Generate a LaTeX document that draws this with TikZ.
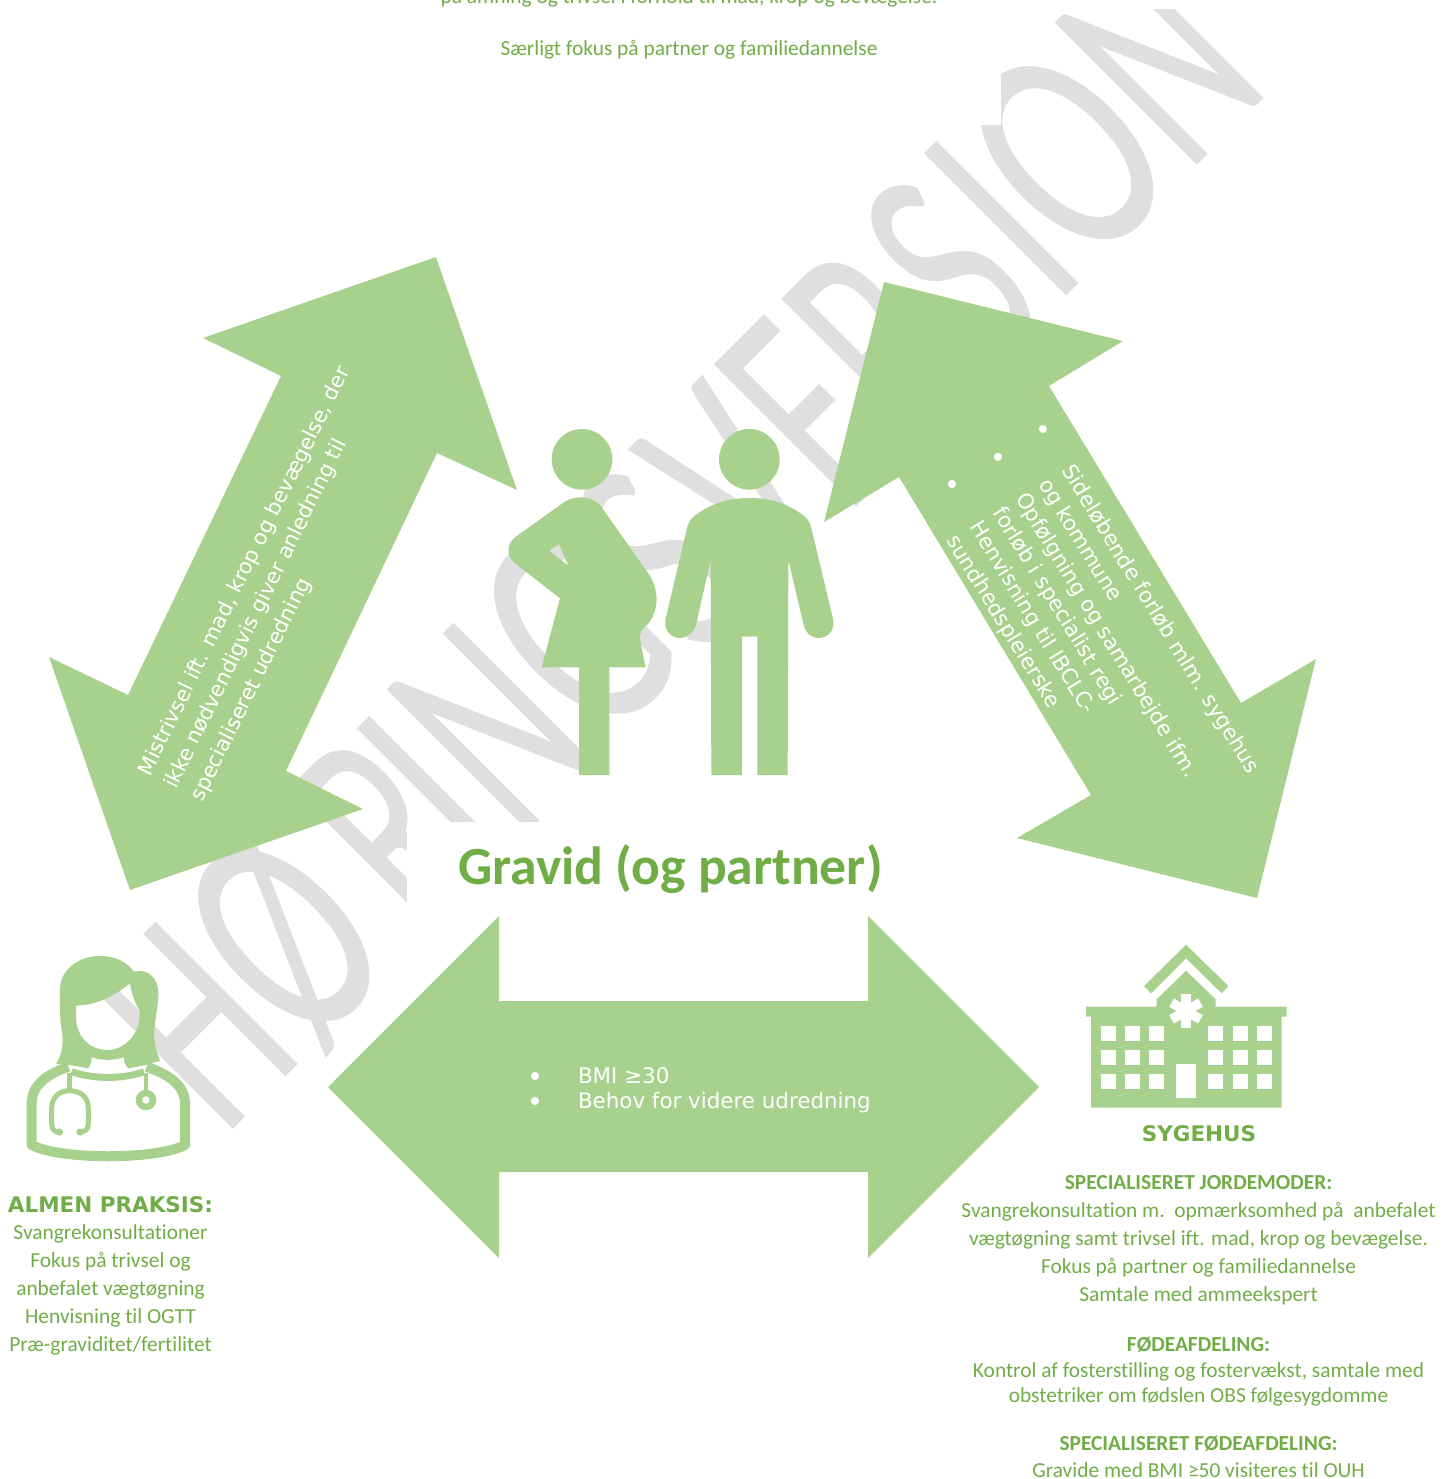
\documentclass[tikz,border=0pt]{standalone}
\usepackage{fontspec}
\setmainfont[Ligatures=NoCommon]{Carlito}
\newfontfamily\vfont{DejaVu Sans}
\newfontfamily\wmfont[FakeBold=0.3]{Carlito}
\definecolor{shapegreen}{HTML}{A9D18E}
\definecolor{textgreen}{HTML}{70AD47}
\definecolor{wmgray}{HTML}{DFDFDF}
\tikzset{
  wm/.style={inner sep=0pt,outer sep=0pt,text=wmgray,anchor=base,rotate=45,xscale=.6,transform shape,font=\wmfont\fontsize{312}{312}\selectfont},
  greenfill/.style={fill=shapegreen,draw=none},
  knock/.style={fill=white,draw=none},
  ink/.style={draw=shapegreen,line cap=round,line join=round},
  bodytxt/.style={inner sep=0pt,outer sep=0pt,anchor=base,text=textgreen,font=\fontsize{21.4}{21.4}\selectfont},
  bodyb/.style={bodytxt,font=\bfseries\fontsize{21.4}{21.4}\selectfont},
  headtxt/.style={inner sep=0pt,outer sep=0pt,anchor=base,text=textgreen,font=\vfont\bfseries\fontsize{21.5}{21.5}\selectfont},
  arrowtext/.style={inner sep=0pt,outer sep=0pt,text=white,align=left},
  blt/.style={inner sep=0pt,outer sep=0pt,text=white,font=\vfont\fontsize{27}{27}\selectfont},
}
\begin{document}
\begin{tikzpicture}[x=1pt,y=-1pt]
\useasboundingbox (0,0) rectangle (1453,1479);
% watermark
\node[wm] (w1) at (265,1096) {H};
\node[wm,xscale=1.08] (w2) at (354.5,1006.5) {Ø};
\node[wm] (w3) at (459.5,901.5) {R};
\node[wm] (w4) at (505,864) {I};
\node[wm] (w5) at (562,798) {N};
\node[wm,xscale=1.08] (w6) at (647,703) {G};
\node[wm] (w7) at (732,629) {S};
\node[wm] (w8) at (807,554) {V};
\node[wm] (w9) at (879,483) {E};
\node[wm] (w10) at (950,414) {R};
\node[wm] (w11) at (1021,340) {S};
\node[wm] (w12) at (1072,289) {I};
\node[wm,xscale=1.12] (w13) at (1137.5,223.5) {O};
\node[wm] (w14) at (1230,131) {N};
% white text boxes over the watermark
\fill[knock] (407,822) rectangle (1000,1000);
\fill[knock] (400,-5) rectangle (1001,125);
\fill[knock] (1001,-5) rectangle (1453,9);
% arrows
\fill[greenfill] (436,257)--(517,490)--(437,453)--(286,771)--(363,809)--(130,890)--(49,657)--(128,695)--(281,376)--(203,338)--cycle;
\fill[greenfill] (884,282)--(1123,341)--(1049,386)--(1241,703)--(1316,659)--(1257,898)--(1017,838)--(1091,795)--(899,477)--(824,522)--cycle;
\fill[greenfill] (328,1087)--(499,916)--(499,1001)--(868,1001)--(868,916)--(1039,1087)--(868,1258)--(868,1172)--(499,1172)--(499,1258)--cycle;
% pregnant figure and man
\begin{scope}[shift={(480,410)},scale=.33333]
\fill[greenfill] (306,148) circle[radius=91];
\fill[greenfill,even odd rule] (300,262) .. controls (325,262) and (345,270) .. (360,285) -- (505,490) .. controls (540,540) and (540,615) .. (490,655) .. controls (480,665) and (478,680) .. (482,700) -- (497,772) -- (388,772) -- (388,1095) -- (297,1095) -- (297,772) -- (185,772) -- (240,565) -- (105,460) .. controls (75,435) and (80,395) .. (115,375) -- (250,278) .. controls (265,268) and (280,262) .. (300,262) -- cycle
 (208,422) -- (237,402) -- (265,467) -- cycle;
\fill[greenfill] (808,148) circle[radius=91];
\fill[greenfill] (808,264) .. controls (870,264) and (925,280) .. (975,320) .. controls (985,330) and (990,340) .. (993,350) -- (1060,630) .. controls (1065,665) and (1040,684) .. (1015,684) .. controls (990,684) and (975,665) .. (970,640) -- (925,450) -- (923,1095) -- (832,1095) -- (832,680) -- (786,680) -- (786,1095) -- (694,1095) -- (692,450) -- (648,645) .. controls (640,668) and (622,684) .. (602,684) .. controls (575,684) and (552,665) .. (556,630) -- (622,350) .. controls (625,340) and (630,330) .. (638,322) .. controls (690,280) and (745,264) .. (808,264) -- cycle;
\end{scope}
% doctor
\begin{scope}[shift={(0,940)},scale=.33333]
\fill[greenfill,even odd rule] (168,372) .. controls (185,345) and (192,310) .. (185,270) .. controls (178,230) and (180,190) .. (180,150) .. controls (180,85) and (240,48) .. (300,48) .. controls (350,48) and (385,70) .. (402,95) .. controls (440,85) and (475,110) .. (475,160) .. controls (475,230) and (445,280) .. (480,362) -- (438,375) -- (385,385) .. controls (375,375) and (372,365) .. (372,352) .. controls (340,362) and (305,362) .. (275,352) .. controls (275,365) and (272,375) .. (265,385) -- (210,375) -- cycle
 (228,197) .. controls (290,195) and (340,170) .. (390,130) .. controls (395,170) and (410,195) .. (420,215) -- (418,240) .. controls (410,290) and (370,330) .. (322,330) .. controls (270,330) and (228,290) .. (228,230) -- cycle;
\draw[ink,line width=10pt,line cap=butt] (205,380) .. controls (150,400) and (95,430) .. (95,490) -- (95,615) .. controls (180,660) and (470,660) .. (555,615) -- (555,490) .. controls (555,430) and (495,400) .. (440,380);
\draw[ink,line width=7pt,line cap=butt] (215,395) .. controls (280,418) and (370,418) .. (432,395);
\draw[ink,line width=5pt,line cap=butt] (208,400) -- (208,452);
\draw[ink,line width=5pt] (178,576) .. controls (160,576) and (155,565) .. (155,550) -- (155,505) .. controls (155,470) and (180,452) .. (208,452) .. controls (240,452) and (265,470) .. (265,505) -- (265,550) .. controls (265,565) and (258,576) .. (240,576);
\fill[greenfill] (178,576) circle[radius=11] (240,576) circle[radius=11];
\draw[ink,line width=4.5pt,line cap=butt] (438,400) -- (438,450);
\draw[ink,line width=6.5pt] (438,480) circle[radius=21];
\end{scope}
% hospital
\begin{scope}[shift={(1070,930)},scale=.33333]
\fill[greenfill] (348,44)--(475,168)--(455,190)--(348,85)--(243,190)--(222,168)--cycle;
\fill[greenfill] (348,122)--(437,208)--(437,230)--(650,230)--(650,260)--(635,260)--(635,533)--(63,533)--(63,260)--(48,260)--(48,230)--(260,230)--(260,208)--cycle;
\foreach \wx in {92,165,238,415,488,560}{
  \foreach \wy in {288,360,432}{
    \fill[knock] (\wx,\wy) rectangle ++(44.5,44);
  }
}
\fill[knock] (319,403) rectangle (378,503);
\foreach \ang in {90,30,150}{
  \draw[white,line width=9.5pt] (348,243) ++(\ang:50) -- ++(\ang:-100);
}
\end{scope}
% texts
\node[bodytxt] (t0) at (689,4) {på amning og trivsel i forhold til mad, krop og bevægelse.};
\node[bodytxt] (t1) at (689,55.5) {Særligt fokus på partner og familiedannelse};
\node[inner sep=0pt,outer sep=0pt,anchor=base,text=textgreen,font=\bfseries\fontsize{53.7}{53.7}\selectfont] (gravid) at (670.5,884) {Gravid (og partner)};
\node[headtxt] (almen) at (110.5,1212) {ALMEN PRAKSIS:};
\node[bodytxt] (a1) at (110.5,1239) {Svangrekonsultationer};
\node[bodytxt] (a2) at (110.5,1267) {Fokus på trivsel og};
\node[bodytxt] (a3) at (110.5,1295) {anbefalet vægtøgning};
\node[bodytxt] (a4) at (110.5,1323) {Henvisning til OGTT};
\node[bodytxt] (a5) at (110.5,1351) {Præ-graviditet/fertilitet};
\node[headtxt] (syg) at (1199,1141) {SYGEHUS};
\node[bodyb] (s1) at (1198.5,1189) {SPECIALISERET JORDEMODER:};
\node[bodytxt] (s2) at (1198.5,1217) {Svangrekonsultation m.\ \ opmærksomhed på\ \ anbefalet};
\node[bodytxt] (s3) at (1198.5,1245) {vægtøgning samt trivsel ift. mad, krop og bevægelse.};
\node[bodytxt] (s4) at (1198.5,1273) {Fokus på partner og familiedannelse};
\node[bodytxt] (s5) at (1198.5,1301) {Samtale med ammeekspert};
\node[bodyb] (s6) at (1198.5,1351) {FØDEAFDELING:};
\node[bodytxt] (s7) at (1198.5,1377) {Kontrol af fosterstilling og fostervækst, samtale med};
\node[bodytxt] (s8) at (1198.5,1402) {obstetriker om fødslen OBS følgesygdomme};
\node[bodyb] (s9) at (1198.5,1450) {SPECIALISERET FØDEAFDELING:};
\node[bodytxt] (s10) at (1198.5,1477) {Gravide med BMI ≥50 visiteres til OUH};
% arrow texts
\node[arrowtext,rotate=63.8,anchor=north west,font=\vfont\fontsize{21}{29}\selectfont] (lefttxt) at (136,770) {Mistrivsel ift. mad, krop og bevægelse, der\\ikke nødvendigvis giver anledning til\\specialiseret udredning};
\node[arrowtext,rotate=-58.5,anchor=north west,font=\vfont\fontsize{21.2}{27}\selectfont] (righttxt) at (1075,462) {Sideløbende forløb mlm. sygehus\\og kommune\\Opfølgning og samarbejde ifm.\\forløb i specialist regi\\Henvisning til IBCLC-\\sundhedspleierske};
\node[blt] (b1) at (1043,433) {•};
\node[blt] (b2) at (998,461) {•};
\node[blt] (b3) at (952,488) {•};
\node[blt] (b4) at (535,1080) {•};
\node[blt] (b5) at (535,1105) {•};
\node[arrowtext,anchor=west,font=\vfont\fontsize{21.4}{25}\selectfont] (midtxt) at (578,1090) {BMI ≥30\\Behov for videre udredning};
\end{tikzpicture}
\end{document}
